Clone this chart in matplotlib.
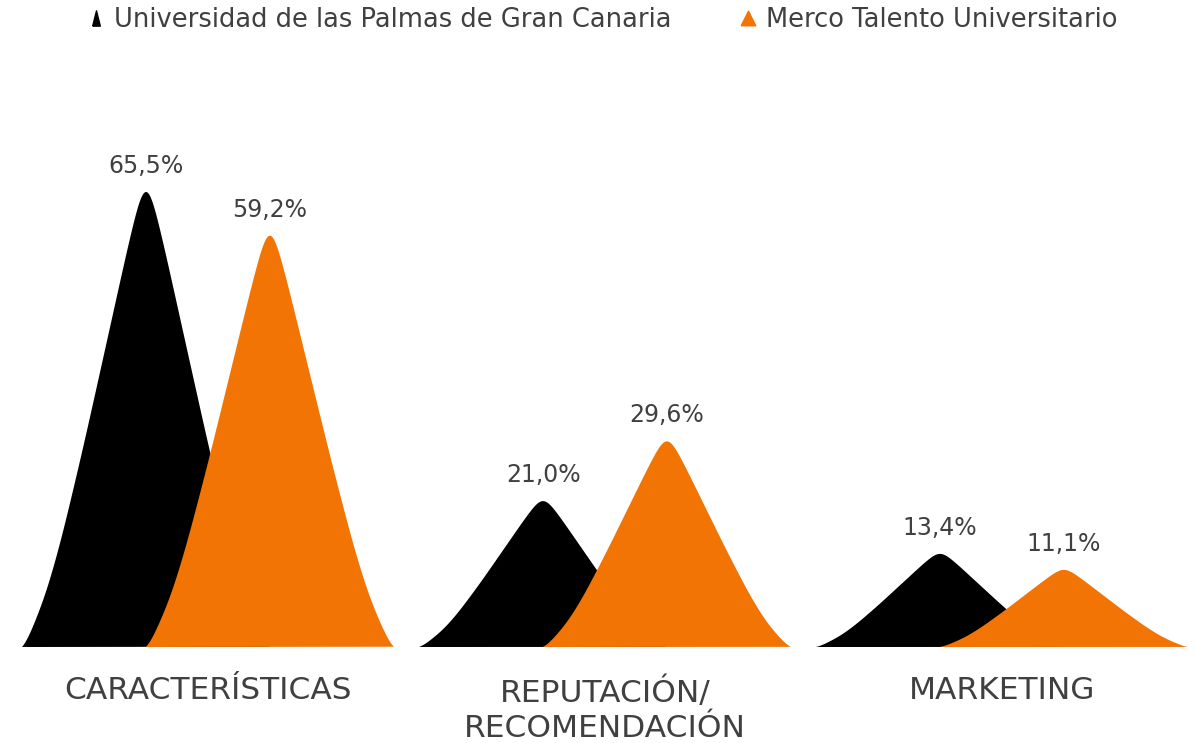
import numpy as np
import matplotlib
matplotlib.use("Agg")
import matplotlib.pyplot as plt
from matplotlib.lines import Line2D

categories = ["CARACTERÍSTICAS", "REPUTACIÓN/\nRECOMENDACIÓN", "MARKETING"]
series_names = ["Universidad de las Palmas de Gran Canaria", "Merco Talento Universitario"]
ulpgc = [65.5, 21.0, 13.4]
merco = [59.2, 29.6, 11.1]
value_labels_ulpgc = ["65,5%", "21,0%", "13,4%"]
value_labels_merco = ["59,2%", "29,6%", "11,1%"]

colors = ["#000000", "#f27405"]
text_color = "#404040"

W, H = 1203, 743
fig = plt.figure(figsize=(W / 100, H / 100), dpi=100)
px_per_unit = 455 / 65.5
ymax = 80
ax_h = ymax * px_per_unit / H
ax = fig.add_axes([9.5 / W, (H - 647) / H, 1191 / W, ax_h])
ax.set_xlim(-0.5, 2.5)
ax.set_ylim(0, ymax)

# mountain symbol profile (normalised half-width -> relative height),
# a tapered outline softened with a small gaussian kernel
prof_u = [0, 0.094, 0.14, 0.234, 0.368, 0.5, 0.672, 0.795, 0.908, 1.0]
prof_h = [1.06, 0.955, 0.903, 0.787, 0.622, 0.46, 0.261, 0.139, 0.058, 0]
step = 0.002
grid = np.arange(-1.5, 1.5 + step / 2, step)
raw = np.interp(np.abs(grid), prof_u, prof_h, right=0.0)
sig = 0.05
kx = np.arange(-4 * sig, 4 * sig + step / 2, step)
kern = np.exp(-0.5 * (kx / sig) ** 2)
kern /= kern.sum()
smooth = np.convolve(raw, kern, mode="same")
inside = np.abs(grid) <= 1.0
us = grid[inside]
hs = smooth[inside]
hs = (hs - hs.min()) / (hs.max() - hs.min())

width = 0.625
offset = 0.156
for si, (vals, labs) in enumerate([(ulpgc, value_labels_ulpgc), (merco, value_labels_merco)]):
    for i, v in enumerate(vals):
        cx = i + (-offset if si == 0 else offset)
        ax.fill(cx + us * width / 2, v * hs, color=colors[si], lw=0, zorder=2 + si)
        ax.annotate(labs[i], (cx, v), xytext=(0, 10), textcoords="offset points",
                    ha="center", va="bottom", fontsize=17, color=text_color,
                    zorder=5)

ax.set_xticks(range(len(categories)))
ax.set_xticklabels(categories, fontsize=22.5, color=text_color, linespacing=1.28)
ax.tick_params(axis="x", length=0, pad=21)
ax.set_yticks([])
for s in ax.spines.values():
    s.set_visible(False)

tri_narrow = [(-0.25, -0.5), (0.25, -0.5), (0, 0.5), (-0.25, -0.5)]
tri_wide = [(-0.5, -0.5), (0.5, -0.5), (0, 0.5), (-0.5, -0.5)]
handles = [Line2D([], [], marker=tri_narrow, linestyle="none", color=colors[0], markersize=11),
           Line2D([], [], marker=tri_wide, linestyle="none", color=colors[1], markersize=10.5)]
leg = fig.legend(handles, series_names, loc="center left", bbox_to_anchor=(86 / W, 0.973),
                 ncol=2, frameon=False, fontsize=18.5, handlelength=0.8,
                 handletextpad=0.28, columnspacing=2.6, borderaxespad=0, borderpad=0)
for txt in leg.get_texts():
    txt.set_color(text_color)

fig.savefig("out.png", dpi=100)
